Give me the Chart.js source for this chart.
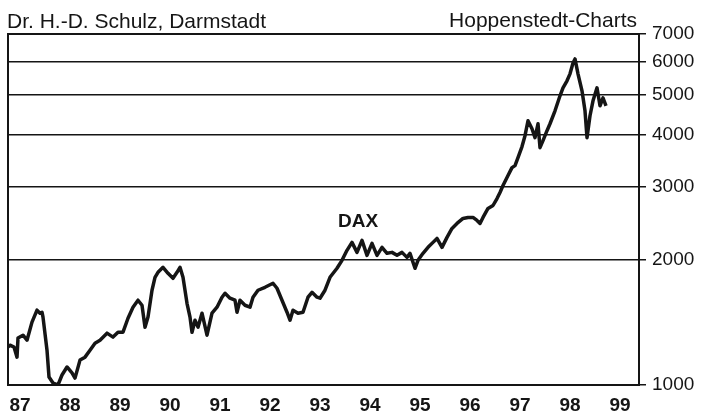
<!DOCTYPE html>
<html lang="de">
<head>
    <meta charset="UTF-8">
    <title>DAX 1987-1999</title>
    <script src="https://cdn.jsdelivr.net/npm/chart.js"></script>
    <style>
        html, body {
            margin: 0;
            padding: 0;
            background: #fff;
        }
        #wrap {
            width: 704px;
            height: 415px;
        }
    </style>
</head>
<body>
    <div id="wrap">
        <canvas id="dax-chart" width="704" height="415"></canvas>
    </div>

    <script>
        // texts
        const titleLeft = 'Dr. H.-D. Schulz, Darmstadt';
        const titleRight = 'Hoppenstedt-Charts';
        const seriesName = 'DAX';

        // x axis: year ticks (label sits under the tick position)
        const yearTicks = [87, 88, 89, 90, 91, 92, 93, 94, 95, 96, 97, 98, 99];
        const yearLabels = ['87', '88', '89', '90', '91', '92', '93', '94', '95', '96', '97', '98', '99'];

        // y axis: log scale ticks
        const valueTicks = [1000, 2000, 3000, 4000, 5000, 6000, 7000];

        // DAX (x in year units of the axis, y index points)
        const yearPos = [
            86.76, 86.80, 86.88, 86.94, 86.96, 87.06, 87.14, 87.24, 87.34, 87.40,
            87.44, 87.46, 87.54, 87.58, 87.66, 87.76, 87.84, 87.94, 88.04, 88.10,
            88.20, 88.30, 88.40, 88.50, 88.60, 88.74, 88.86, 88.96, 89.06, 89.16,
            89.26, 89.36, 89.44, 89.50, 89.56, 89.64, 89.70, 89.76, 89.86, 89.96,
            90.06, 90.14, 90.20, 90.26, 90.34, 90.40, 90.44, 90.50, 90.56, 90.64,
            90.74, 90.84, 90.94, 91.04, 91.10, 91.20, 91.30, 91.34, 91.40, 91.50,
            91.60, 91.66, 91.76, 91.90, 92.06, 92.14, 92.24, 92.34, 92.40, 92.46,
            92.56, 92.66, 92.76, 92.84, 92.94, 93.00, 93.10, 93.20, 93.34, 93.44,
            93.54, 93.64, 93.74, 93.84, 93.94, 94.04, 94.14, 94.24, 94.34, 94.44,
            94.54, 94.64, 94.74, 94.80, 94.90, 94.96, 95.06, 95.16, 95.26, 95.34,
            95.44, 95.54, 95.64, 95.74, 95.86, 95.96, 96.06, 96.14, 96.20, 96.26,
            96.36, 96.46, 96.54, 96.60, 96.66, 96.76, 96.84, 96.90, 96.96, 97.04,
            97.10, 97.16, 97.24, 97.30, 97.36, 97.40, 97.46, 97.54, 97.60, 97.70,
            97.80, 97.86, 97.94, 98.00, 98.06, 98.10, 98.16, 98.24, 98.30, 98.34,
            98.40, 98.46, 98.54, 98.56, 98.60, 98.66, 98.72
        ];
        const daxValues = [
            1234, 1247, 1234, 1167, 1297, 1318, 1282, 1417, 1514, 1489,
            1497, 1457, 1213, 1045, 1011, 1000, 1057, 1105, 1069, 1039,
            1148, 1167, 1213, 1261, 1282, 1333, 1304, 1340, 1340, 1448,
            1539, 1600, 1556, 1378, 1457, 1691, 1817, 1868, 1920, 1858,
            1807, 1868, 1920, 1817, 1573, 1457, 1340, 1432, 1378, 1489,
            1318, 1489, 1539, 1627, 1663, 1618, 1600, 1497, 1600, 1556,
            1539, 1627, 1691, 1719, 1758, 1710, 1600, 1497, 1432, 1514,
            1489, 1497, 1627, 1672, 1627, 1618, 1691, 1817, 1910, 1996,
            2110, 2205, 2086, 2230, 2052, 2193, 2052, 2145, 2075, 2086,
            2052, 2086, 2029, 2075, 1910, 1996, 2075, 2145, 2205, 2254,
            2145, 2267, 2382, 2449, 2518, 2532, 2532, 2490, 2449, 2532,
            2661, 2705, 2812, 2907, 3022, 3193, 3337, 3375, 3527, 3750,
            3984, 4328, 4141, 3940, 4256, 3728, 3875, 4095, 4256, 4574,
            4970, 5194, 5400, 5613, 5963, 6096, 5613, 5109, 4574, 3940,
            4449, 4834, 5194, 5025, 4702, 4915, 4702
        ];

        // where the "DAX" caption sits (data coordinates)
        const captionAt = { x: 93.76, y: 2476 };

        const ink = '#151515';
        const fontFamily = '"Liberation Sans", Arial, Helvetica, sans-serif';

        // titles, caption and frame of the plot area
        const textPlugin = {
            id: 'texts',
            afterDraw(chart) {
                const { ctx, chartArea, scales } = chart;
                ctx.save();
                ctx.fillStyle = ink;
                ctx.font = '21px ' + fontFamily;
                ctx.textBaseline = 'alphabetic';
                ctx.textAlign = 'left';
                ctx.fillText(titleLeft, 7, 28);
                ctx.textAlign = 'right';
                ctx.fillText(titleRight, chartArea.right - 2, 27);

                ctx.font = 'bold 19px ' + fontFamily;
                ctx.textAlign = 'center';
                ctx.textBaseline = 'middle';
                ctx.fillText(seriesName, scales.x.getPixelForValue(captionAt.x), scales.y.getPixelForValue(captionAt.y));

                ctx.strokeStyle = ink;
                ctx.lineWidth = 2;
                ctx.strokeRect(chartArea.left, chartArea.top, chartArea.width, chartArea.height);
                ctx.restore();
            }
        };

        const ctx = document.getElementById('dax-chart').getContext('2d');
        const daxChart = new Chart(ctx, {
            type: 'line',
            data: {
                datasets: [{
                    label: seriesName,
                    data: yearPos.map((x, i) => ({ x: x, y: daxValues[i] })),
                    borderColor: ink,
                    borderWidth: 3.5,
                    borderJoinStyle: 'round',
                    pointRadius: 0,
                    tension: 0,
                    fill: false
                }]
            },
            options: {
                responsive: false,
                animation: false,
                layout: {
                    padding: { left: 8, top: 34, right: 0, bottom: 0 }
                },
                plugins: {
                    legend: { display: false },
                    tooltip: { enabled: false }
                },
                scales: {
                    x: {
                        type: 'linear',
                        min: 86.76,
                        max: 99.38,
                        afterBuildTicks: (scale) => {
                            scale.ticks = yearTicks.map(v => ({ value: v }));
                        },
                        afterFit: (scale) => {
                            scale.height = 30;
                        },
                        grid: { display: false },
                        border: { display: false },
                        ticks: {
                            autoSkip: false,
                            maxRotation: 0,
                            padding: 1,
                            color: ink,
                            font: { family: fontFamily, size: 19, weight: 'bold' },
                            callback: (value, index) => yearLabels[index]
                        }
                    },
                    y: {
                        type: 'logarithmic',
                        position: 'right',
                        min: 1000,
                        max: 7000,
                        afterBuildTicks: (scale) => {
                            scale.ticks = valueTicks.map(v => ({ value: v }));
                        },
                        afterFit: (scale) => {
                            scale.width = 65;
                        },
                        grid: {
                            color: ink,
                            lineWidth: 1.5,
                            drawTicks: true,
                            tickLength: 7
                        },
                        border: { display: true, color: ink, width: 2 },
                        ticks: {
                            padding: 6,
                            color: ink,
                            font: { family: fontFamily, size: 19 },
                            callback: (value) => String(value)
                        }
                    }
                }
            },
            plugins: [textPlugin]
        });
    </script>
</body>
</html>
